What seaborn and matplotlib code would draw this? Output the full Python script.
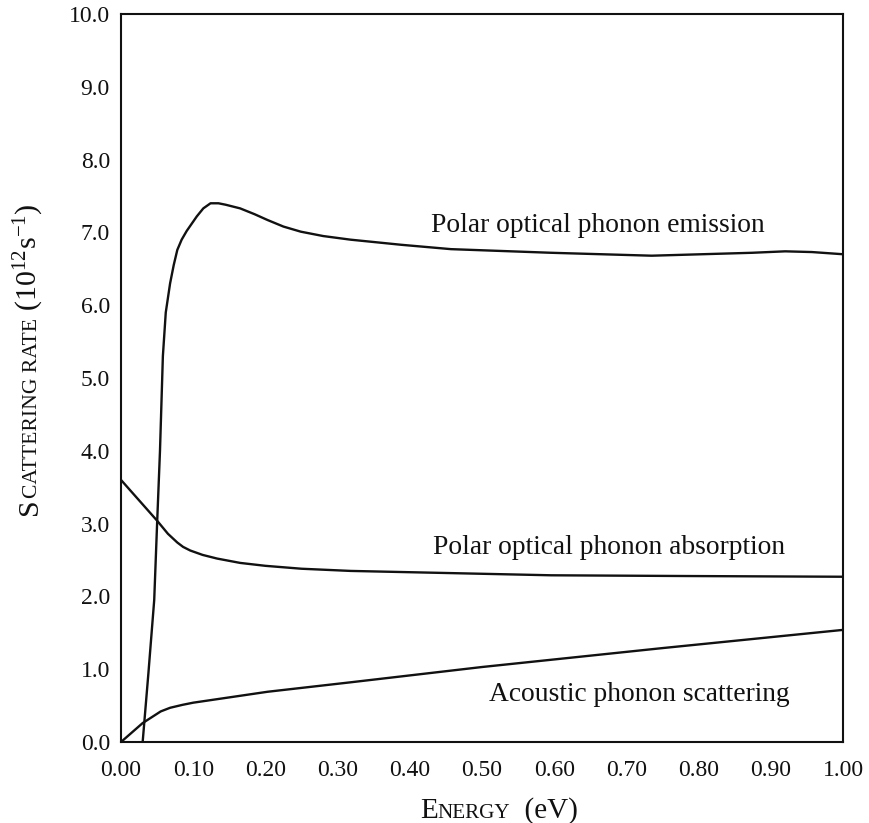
import matplotlib
matplotlib.use("Agg")
import matplotlib.pyplot as plt
import seaborn as sns
import pandas as pd
from matplotlib.transforms import IdentityTransform

# ---- data ----
emis_x = [0.030, 0.038, 0.046, 0.050, 0.054, 0.058, 0.062, 0.068, 0.073, 0.078,
          0.084, 0.091, 0.098, 0.105, 0.114, 0.124, 0.135, 0.145, 0.165, 0.185,
          0.203, 0.225, 0.249, 0.280, 0.318, 0.388, 0.457, 0.596, 0.735, 0.874,
          0.920, 0.957, 1.000]
emis_y = [0.00, 0.95, 1.95, 3.00, 4.00, 5.30, 5.90, 6.30, 6.55, 6.76,
          6.90, 7.02, 7.12, 7.22, 7.33, 7.40, 7.40, 7.38, 7.33, 7.25,
          7.17, 7.08, 7.01, 6.95, 6.90, 6.83, 6.77, 6.72, 6.68, 6.72,
          6.74, 6.73, 6.70]

abs_x = [0.000, 0.025, 0.050, 0.065, 0.078, 0.086, 0.096, 0.113, 0.133, 0.165,
         0.200, 0.250, 0.318, 0.457, 0.596, 0.780, 1.000]
abs_y = [3.60, 3.32, 3.04, 2.86, 2.74, 2.68, 2.63, 2.57, 2.52, 2.46,
         2.42, 2.38, 2.35, 2.32, 2.29, 2.28, 2.27]

ac_x = [0.000, 0.030, 0.055, 0.068, 0.085, 0.100, 0.203, 0.318, 0.500, 0.750, 1.000]
ac_y = [0.00, 0.26, 0.42, 0.47, 0.51, 0.54, 0.69, 0.82, 1.03, 1.29, 1.54]

labels = ["Polar optical phonon emission",
          "Polar optical phonon absorption",
          "Acoustic phonon scattering"]
label_x = [0.429, 0.432, 0.510]
label_y = [7.00, 2.58, 0.56]

x_ticks = [0.0, 0.1, 0.2, 0.3, 0.4, 0.5, 0.6, 0.7, 0.8, 0.9, 1.0]
x_ticklabels = ["0.00", "0.10", "0.20", "0.30", "0.40", "0.50",
                "0.60", "0.70", "0.80", "0.90", "1.00"]
y_ticks = [0, 1, 2, 3, 4, 5, 6, 7, 8, 9, 10]
y_ticklabels = ["0.0", "1.0", "2.0", "3.0", "4.0", "5.0",
                "6.0", "7.0", "8.0", "9.0", "10.0"]

# ---- style ----
sns.set_theme(style="white")
plt.rcParams['font.family'] = ['Liberation Serif', 'DejaVu Serif']
plt.rcParams['mathtext.fontset'] = 'custom'
plt.rcParams['mathtext.rm'] = 'Liberation Serif'
plt.rcParams['mathtext.it'] = 'Liberation Serif:italic'
plt.rcParams['mathtext.bf'] = 'Liberation Serif:bold'

W, H, DPI = 869, 823, 100
fig = plt.figure(figsize=(W / DPI, H / DPI), dpi=DPI)
ax = fig.add_axes([121 / W, 1 - 742 / H, (843 - 121) / W, (742 - 14) / H])

ink = "#111111"
frames = [
    pd.DataFrame({"energy": emis_x, "rate": emis_y}),
    pd.DataFrame({"energy": abs_x, "rate": abs_y}),
    pd.DataFrame({"energy": ac_x, "rate": ac_y}),
]
for df in frames:
    sns.lineplot(data=df, x="energy", y="rate", ax=ax, color=ink,
                 linewidth=1.7, sort=False, estimator=None)

for t, xx, yy in zip(labels, label_x, label_y):
    ax.text(xx, yy, t, fontsize=19.8, color=ink, ha="left", va="baseline")

ax.set_xlim(0, 1.0)
ax.set_ylim(0, 10)
ax.set_xticks(x_ticks)
ax.set_xticklabels(x_ticklabels)
ax.set_yticks(y_ticks)
ax.set_yticklabels(y_ticklabels)
ax.tick_params(direction="in", length=7, width=1.2, color=ink,
               labelsize=17, labelcolor=ink)
ax.tick_params(axis="y", pad=8)
ax.tick_params(axis="x", pad=13)
for s in ax.spines.values():
    s.set_color(ink)
    s.set_linewidth(1.5)
ax.set_xlabel("")
ax.set_ylabel("")

# ---- small-caps axis labels built from chained text pieces ----
fig.canvas.draw()
renderer = fig.canvas.get_renderer()


def chain(pieces, horizontal, center, base):
    arts = []
    for txt, size in pieces:
        a = fig.text(0, 0, txt, fontsize=size, color=ink,
                     transform=IdentityTransform(),
                     rotation=0 if horizontal else 90,
                     rotation_mode="anchor", ha="left", va="baseline")
        arts.append(a)
    lengths = []
    for a in arts:
        bb = a.get_window_extent(renderer)
        lengths.append(bb.width if horizontal else bb.height)
    total = sum(lengths)
    pos = center - total / 2
    for a, L in zip(arts, lengths):
        if horizontal:
            a.set_position((pos, base))
        else:
            a.set_position((base, pos))
        pos += L


chain([("E", 21), ("NERGY", 15.2), ("  (eV)", 21)],
      True, 499, 823 - 818)
chain([("S", 21.5), ("CATTERING RATE", 15.6),
       (r" ($\mathregular{10^{12}s^{-1}}$)", 21.5)],
      False, 823 - 359, 37)

fig.savefig("out.png", dpi=DPI)
